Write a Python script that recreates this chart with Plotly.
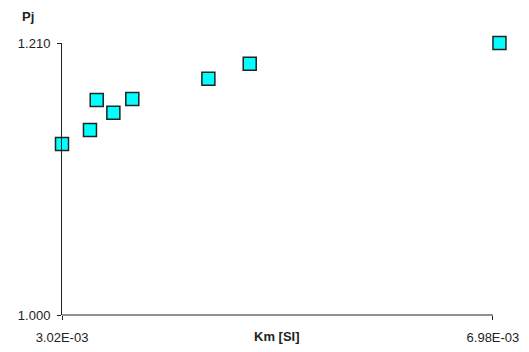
import plotly.graph_objects as go

# Km [SI] vs Pj measurements
km = [3.02e-3, 3.277e-3, 3.339e-3, 3.492e-3, 3.666e-3, 4.365e-3, 4.745e-3, 7.04e-3]
pj = [1.132, 1.1428, 1.166, 1.1562, 1.1668, 1.1824, 1.194, 1.210]

x_ticks = [3.02e-3, 6.98e-3]
x_ticktext = ["3.02E-03", "6.98E-03"]
y_ticks = [1.000, 1.210]
y_ticktext = ["1.000", "1.210"]
x_view_max = 7.1e-3  # leaves room for the last point past the labelled end

font = dict(family="Liberation Sans, Arial, sans-serif", size=13, color="#222222")
axis_col = "#222222"

fig = go.Figure()
fig.add_trace(go.Scatter(
    x=km, y=pj, mode="markers",
    marker=dict(symbol="square", size=13, color="#00FFFF",
                line=dict(color=axis_col, width=1.5)),
    cliponaxis=False,
    showlegend=False,
))

# x-axis baseline drawn only between the labelled ends
fig.add_shape(type="line", xref="x", yref="paper",
              x0=x_ticks[0], x1=x_ticks[1], y0=0, y1=0,
              line=dict(color=axis_col, width=1), layer="above")

fig.update_layout(
    width=529, height=352,
    margin=dict(l=62, r=23, t=43, b=37),
    paper_bgcolor="white", plot_bgcolor="white",
    font=font,
    xaxis=dict(
        range=[x_ticks[0], x_view_max], tickvals=x_ticks, ticktext=x_ticktext,
        showgrid=False, zeroline=False, showline=False, automargin=False,
        ticks="outside", ticklen=4, tickcolor=axis_col, ticklabelstandoff=6,
    ),
    yaxis=dict(
        range=[y_ticks[0], y_ticks[1]], tickvals=y_ticks, ticktext=y_ticktext,
        showgrid=False, zeroline=False, showline=True, linecolor=axis_col, linewidth=1,
        automargin=False,
        ticks="outside", ticklen=4, tickcolor=axis_col, ticklabelstandoff=4,
    ),
    annotations=[
        dict(text="<b>Km [SI]</b>", xref="paper", yref="paper", x=0.484, y=-0.079,
             xanchor="center", yanchor="middle", showarrow=False, font=font),
        dict(text="<b>Pj</b>", xref="paper", yref="paper", x=-0.0755, y=1.096,
             xanchor="center", yanchor="middle", showarrow=False, font=font),
    ],
)

fig.write_html("out.html")
